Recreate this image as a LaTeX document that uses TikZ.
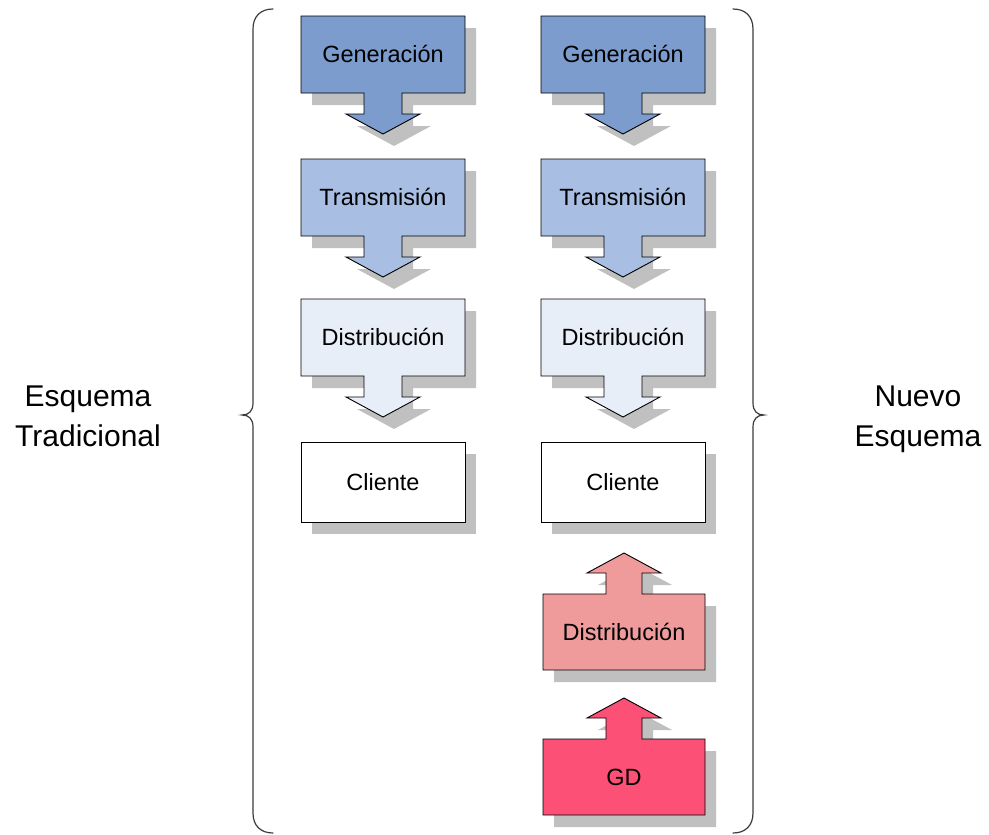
\documentclass[tikz,border=0pt]{standalone}
\usepackage{fontspec}
\setmainfont{Liberation Sans}
\definecolor{gencol}{RGB}{123,156,205}
\definecolor{transcol}{RGB}{168,190,226}
\definecolor{distcol}{RGB}{232,238,248}
\definecolor{gdistcol}{RGB}{240,155,155}
\definecolor{gdcol}{RGB}{252,80,118}
\definecolor{shadowcol}{RGB}{192,192,192}
\definecolor{bracecol}{RGB}{60,60,60}
\tikzset{
  shapeline/.style={draw=black, line width=0.9pt, line join=miter},
  shadowfill/.style={fill=shadowcol, draw=none},
  boxtext/.style={anchor=base, inner sep=0pt, font=\fontsize{23.5}{28}\selectfont},
  sidetext/.style={anchor=base, inner sep=0pt, font=\fontsize{30}{36}\selectfont},
  bracestyle/.style={draw=bracecol, line width=1.2pt, line cap=round},
}
% box with an arrow pointing down from its lower edge
% #1 node name, #2 left, #3 top, #4 right, #5 bottom, #6 fill, #7 text
\newcommand{\flowdownbox}[7]{%
  \pgfmathsetmacro{\cx}{(#2+#4)/2}%
  \pgfmathsetmacro{\cy}{(#3+#5)/2}%
  \fill[shadowfill, shift={(11,12)}] (#2,#3) -- (#4,#3) -- (#4,#5) -- (\cx+19,#5) -- (\cx+19,#5+21)
    -- (\cx+37,#5+21) -- (\cx,#5+41) -- (\cx-37,#5+21) -- (\cx-19,#5+21) -- (\cx-19,#5) -- (#2,#5) -- cycle;
  \filldraw[shapeline, fill=#6] (#2,#3) -- (#4,#3) -- (#4,#5) -- (\cx+19,#5) -- (\cx+19,#5+21)
    -- (\cx+37,#5+21) -- (\cx,#5+41) -- (\cx-37,#5+21) -- (\cx-19,#5+21) -- (\cx-19,#5) -- (#2,#5) -- cycle;
  \node[boxtext] (#1) at (\cx,\cy+8) {#7};%
}
% box with an arrow pointing up from its upper edge
\newcommand{\flowupbox}[7]{%
  \pgfmathsetmacro{\cx}{(#2+#4)/2}%
  \pgfmathsetmacro{\cy}{(#3+#5)/2}%
  \fill[shadowfill, shift={(11,12)}] (#2,#3) -- (\cx-18,#3) -- (\cx-18,#3-21) -- (\cx-37,#3-21)
    -- (\cx,#3-41) -- (\cx+37,#3-21) -- (\cx+18,#3-21) -- (\cx+18,#3) -- (#4,#3) -- (#4,#5) -- (#2,#5) -- cycle;
  \filldraw[shapeline, fill=#6] (#2,#3) -- (\cx-18,#3) -- (\cx-18,#3-21) -- (\cx-37,#3-21)
    -- (\cx,#3-41) -- (\cx+37,#3-21) -- (\cx+18,#3-21) -- (\cx+18,#3) -- (#4,#3) -- (#4,#5) -- (#2,#5) -- cycle;
  \node[boxtext] (#1) at (\cx,\cy+8) {#7};%
}
% plain box
\newcommand{\plainbox}[7]{%
  \pgfmathsetmacro{\cx}{(#2+#4)/2}%
  \pgfmathsetmacro{\cy}{(#3+#5)/2}%
  \fill[shadowfill, shift={(11,12)}] (#2,#3) rectangle (#4,#5);
  \filldraw[shapeline, fill=#6] (#2,#3) rectangle (#4,#5);
  \node[boxtext] (#1) at (\cx,\cy+8) {#7};%
}
\begin{document}
\begin{tikzpicture}[x=1pt, y=-1pt]
  \useasboundingbox (0,0) rectangle (989,835);
  \fill[white] (0,0) rectangle (989,835);

  % traditional chain
  \flowdownbox{tgen}{301}{16}{465}{93}{gencol}{Generación}
  \flowdownbox{ttra}{301}{159}{465}{236}{transcol}{Transmisión}
  \flowdownbox{tdis}{301}{299}{465}{376}{distcol}{Distribución}
  \plainbox{tcli}{301}{442}{465}{522}{white}{Cliente}

  % new chain
  \flowdownbox{ngen}{541}{16}{705}{93}{gencol}{Generación}
  \flowdownbox{ntra}{541}{159}{705}{236}{transcol}{Transmisión}
  \flowdownbox{ndis}{541}{299}{705}{376}{distcol}{Distribución}
  \plainbox{ncli}{541}{442}{705}{522}{white}{Cliente}
  \flowupbox{ngdis}{543}{594}{705}{670}{gdistcol}{Distribución}
  \flowupbox{ngd}{543}{739}{705}{815}{gdcol}{GD}

  % braces
  \draw[bracestyle] (273,9) .. controls (261,9) and (253,16) .. (253,29) -- (253,403)
    .. controls (253,411) and (249,415) .. (242,415) .. controls (249,415) and (253,419) .. (253,427)
    -- (253,813) .. controls (253,826) and (261,833) .. (273,833);
  \draw[bracestyle] (733,9) .. controls (745,9) and (753,16) .. (753,29) -- (753,403)
    .. controls (753,411) and (757,415) .. (764,415) .. controls (757,415) and (753,419) .. (753,427)
    -- (753,813) .. controls (753,826) and (745,833) .. (733,833);

  % side labels
  \node[sidetext] (lab1) at (88,406) {Esquema};
  \node[sidetext] (lab2) at (88,446) {Tradicional};
  \node[sidetext] (lab3) at (918,406) {Nuevo};
  \node[sidetext] (lab4) at (918,446) {Esquema};
\end{tikzpicture}
\end{document}
